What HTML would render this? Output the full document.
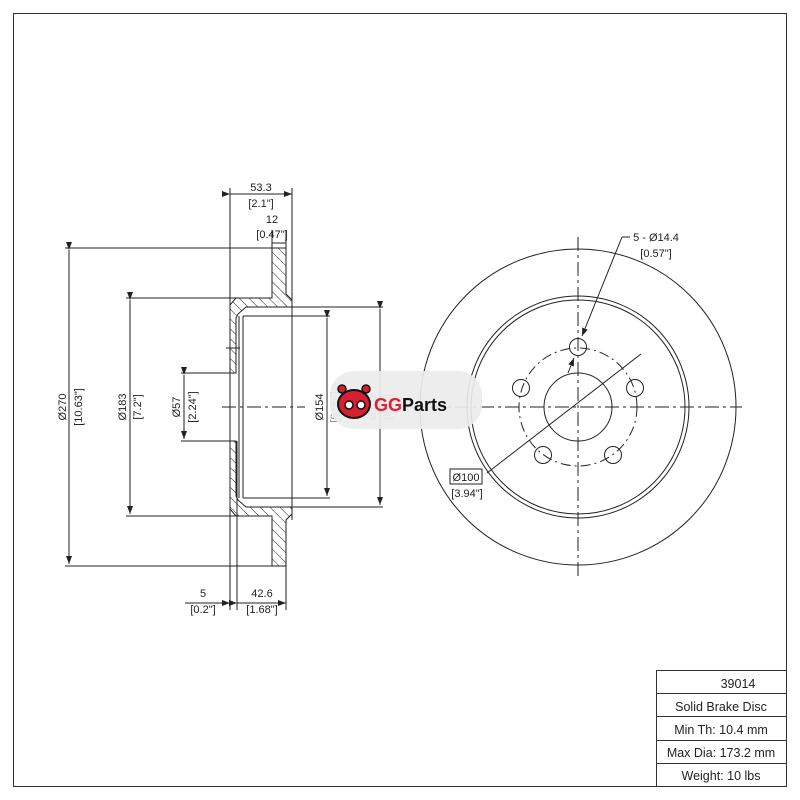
<!DOCTYPE html>
<html><head><meta charset="utf-8"><style>
html,body{margin:0;padding:0;background:#fff}
svg{display:block}
text{font-family:"Liberation Sans",sans-serif;fill:#222}
</style></head><body>
<svg width="800" height="800" viewBox="0 0 800 800" xmlns="http://www.w3.org/2000/svg">
<defs>
<pattern id="h" width="7" height="7" patternUnits="userSpaceOnUse" patternTransform="rotate(-45)">
<line x1="0" y1="0" x2="0" y2="7" stroke="#222" stroke-width="1"/>
</pattern>
<marker id="a" markerWidth="8" markerHeight="6" refX="8" refY="3" orient="auto" markerUnits="userSpaceOnUse"><path d="M0,0 L8,3 L0,6z" fill="#222"/></marker>
</defs>
<rect x="13.5" y="13.5" width="773" height="773" fill="none" stroke="#333" stroke-width="1"/>
<g stroke="#222" stroke-width="1" fill="none">
<path d="M272,248 L286,248 L286,294 L292,300 L292,307 L246,307 L238,314 L236,318 L236,373 L230,373 L230,305 L236,298 L272,298 Z" fill="url(#h)"/>
<path d="M272,566 L286,566 L286,520 L292,514 L292,507 L246,507 L238,500 L236,496 L236,441 L230,441 L230,509 L236,516 L272,516 Z" fill="url(#h)"/>
<line x1="239" y1="316" x2="239" y2="498"/>
<line x1="243" y1="316" x2="243" y2="498"/>
<line x1="243" y1="316" x2="330" y2="316"/>
<line x1="243" y1="498" x2="330" y2="498"/>
<line x1="292" y1="188" x2="292" y2="520"/>
<line x1="230" y1="188" x2="230" y2="610"/>
<line x1="237" y1="441" x2="237" y2="610"/>
<line x1="286" y1="566" x2="286" y2="610"/>
<line x1="286" y1="230" x2="286" y2="248"/>
<line x1="272" y1="230" x2="272" y2="248"/>
<line x1="292" y1="307" x2="383" y2="307"/>
<line x1="292" y1="507" x2="383" y2="507"/>
<line x1="65" y1="248" x2="272" y2="248"/>
<line x1="65" y1="566" x2="272" y2="566"/>
<line x1="126" y1="298" x2="236" y2="298"/>
<line x1="126" y1="516" x2="236" y2="516"/>
<line x1="181" y1="373" x2="236" y2="373"/>
<line x1="181" y1="441" x2="236" y2="441"/>
<line x1="226" y1="348" x2="240" y2="348"/>
<line x1="222" y1="407" x2="305" y2="407" stroke-dasharray="14,4,3,4"/>
<line x1="230" y1="194" x2="292" y2="194" marker-start="url(#a)" marker-end="url(#a)"/>
<line x1="272" y1="243" x2="286" y2="243"/>
<line x1="69" y1="250" x2="69" y2="564" marker-start="url(#a)" marker-end="url(#a)"/>
<line x1="130" y1="300" x2="130" y2="514" marker-start="url(#a)" marker-end="url(#a)"/>
<line x1="184" y1="375" x2="184" y2="439" marker-start="url(#a)" marker-end="url(#a)"/>
<line x1="327" y1="318" x2="327" y2="496" marker-start="url(#a)" marker-end="url(#a)"/>
<line x1="380" y1="309" x2="380" y2="505" marker-start="url(#a)" marker-end="url(#a)"/>
<line x1="185" y1="603" x2="230" y2="603" marker-end="url(#a)"/>
<line x1="237" y1="603" x2="286" y2="603" marker-start="url(#a)" marker-end="url(#a)"/>
<circle cx="578" cy="407" r="158"/>
<circle cx="578" cy="407" r="111"/>
<circle cx="578" cy="407" r="107"/>
<circle cx="578" cy="407" r="34"/>
<circle cx="578" cy="407" r="59" stroke-dasharray="10,4,2,4"/>
<circle cx="578" cy="347" r="8.5"/>
<circle cx="635" cy="388" r="8.5"/>
<circle cx="613" cy="455" r="8.5"/>
<circle cx="543" cy="455" r="8.5"/>
<circle cx="521" cy="388" r="8.5"/>
<line x1="578" y1="237" x2="578" y2="578" stroke-dasharray="14,4,3,4"/>
<line x1="405" y1="407" x2="742" y2="407" stroke-dasharray="14,4,3,4"/>
<line x1="630" y1="237" x2="622" y2="237"/>
<line x1="622" y1="237" x2="582" y2="336" marker-end="url(#a)"/>
<line x1="568" y1="373" x2="574" y2="358" marker-end="url(#a)"/>
<line x1="641" y1="354" x2="487" y2="473"/>
<rect x="450" y="469" width="32" height="15"/>
</g>
<g font-size="11" text-anchor="middle" opacity="0.5">
<text transform="translate(376,407) rotate(-90)">Ø162</text>
<text transform="translate(391,407) rotate(-90)">[6.4"]</text>
<text transform="translate(338,407) rotate(-90)">[6.06"]</text>
</g>
<rect x="330" y="371" width="152" height="58" rx="24" fill="#ececec" opacity="0.92"/>
<g>
<circle cx="342" cy="389" r="4" fill="#d81f32" stroke="#111" stroke-width="1.5"/>
<circle cx="366" cy="389" r="4" fill="#d81f32" stroke="#111" stroke-width="1.5"/>
<ellipse cx="354" cy="404" rx="16" ry="14" fill="#d81f32" stroke="#111" stroke-width="2"/>
<circle cx="349" cy="405" r="4" fill="#fff" stroke="#111" stroke-width="1.5"/>
<circle cx="361" cy="405" r="4" fill="#fff" stroke="#111" stroke-width="1.5"/>
</g>
<text x="374" y="411" font-size="18" font-weight="bold" style="fill:#e02030">GG<tspan style="fill:#111">Parts</tspan></text>
<g font-size="11" text-anchor="middle">
<text x="261" y="191">53.3</text>
<text x="261" y="207">[2.1"]</text>
<text x="272" y="223">12</text>
<text x="272" y="238">[0.47"]</text>
<text x="203" y="597">5</text>
<text x="203" y="613">[0.2"]</text>
<text x="262" y="597">42.6</text>
<text x="262" y="613">[1.68"]</text>
<text transform="translate(66,407) rotate(-90)">Ø270</text>
<text transform="translate(82,407) rotate(-90)">[10.63"]</text>
<text transform="translate(126,407) rotate(-90)">Ø183</text>
<text transform="translate(141,407) rotate(-90)">[7.2"]</text>
<text transform="translate(180,407) rotate(-90)">Ø57</text>
<text transform="translate(196,407) rotate(-90)">[2.24"]</text>
<text transform="translate(323,407) rotate(-90)">Ø154</text>
<text x="656" y="241">5 - Ø14.4</text>
<text x="656" y="257">[0.57"]</text>
<text x="466" y="481">Ø100</text>
<text x="467" y="497">[3.94"]</text>
</g>
<g stroke="#333" stroke-width="1" fill="none">
<line x1="656.5" y1="670" x2="656.5" y2="787"/>
<line x1="656" y1="670.5" x2="787" y2="670.5"/>
<line x1="656" y1="693.5" x2="787" y2="693.5"/>
<line x1="656" y1="716.5" x2="787" y2="716.5"/>
<line x1="656" y1="740.5" x2="787" y2="740.5"/>
<line x1="656" y1="763.5" x2="787" y2="763.5"/>
</g>
<g font-size="12.5" text-anchor="middle">
<text x="738" y="688">39014</text>
<text x="721" y="711">Solid Brake Disc</text>
<text x="721" y="734">Min Th: 10.4 mm</text>
<text x="721" y="757">Max Dia: 173.2 mm</text>
<text x="721" y="780">Weight: 10 lbs</text>
</g>
</svg>
</body></html>
